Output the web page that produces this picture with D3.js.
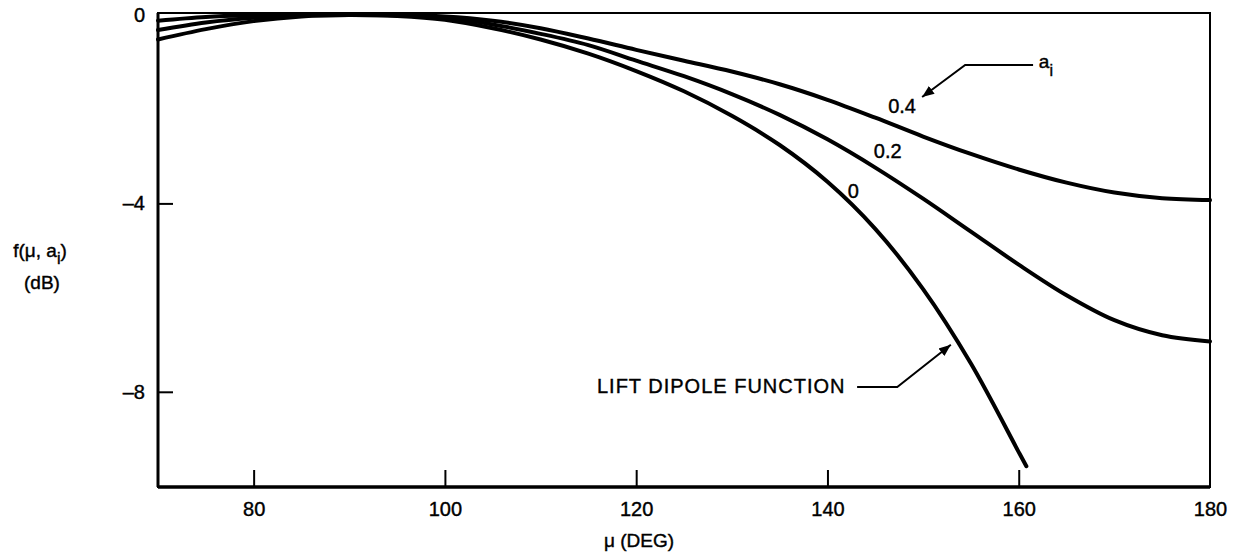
<!DOCTYPE html>
<html>
<head>
<meta charset="utf-8">
<script src="https://cdn.jsdelivr.net/npm/d3@7"></script>
<style>
  html, body { margin: 0; padding: 0; background: #fff; }
  svg text { font-family: "Liberation Sans", Arial, Helvetica, sans-serif; fill: #000; stroke: #000; stroke-width: 0.4px; }
</style>
</head>
<body>
<div class="chart"></div>
<script>
(function () {
  'use strict';

  // values (mu in degrees, f in dB)
  var mu = [70, 75, 80, 85, 90, 95, 100, 105, 110, 115, 120, 125, 130, 135, 140, 145, 150, 155, 160, 165, 170, 175, 180];
  var muLift = [70, 75, 80, 85, 90, 95, 100, 105, 110, 115, 120, 125, 130, 135, 140, 145, 150, 155, 160, 160.8];
  var fA0 = [-0.52, -0.3, -0.13, -0.03, 0, -0.02, -0.1, -0.28, -0.52, -0.82, -1.19, -1.62, -2.14, -2.76, -3.54, -4.54, -5.82, -7.4, -9.28, -9.58];
  var fA02 = [-0.32, -0.16, -0.06, -0.01, 0, -0.01, -0.06, -0.2, -0.4, -0.64, -0.97, -1.3, -1.68, -2.12, -2.64, -3.24, -3.9, -4.6, -5.3, -5.95, -6.48, -6.8, -6.93];
  var fA04 = [-0.12, -0.04, -0.01, 0, 0, 0, -0.03, -0.12, -0.28, -0.5, -0.74, -0.97, -1.2, -1.47, -1.8, -2.18, -2.58, -2.95, -3.28, -3.56, -3.77, -3.89, -3.93];
  var xTicks = [80, 100, 120, 140, 160, 180];
  var yTicks = [0, -4, -8];

  var width = 1237;
  var height = 554;

  var x = d3.scaleLinear().domain([70, 180]).range([158, 1210]);
  var y = d3.scaleLinear().domain([0, -10]).range([15, 486]);

  var svg = d3.select('.chart')
      .append('svg')
      .attr('width', width)
      .attr('height', height);

  svg.append('defs')
     .append('marker')
     .attr('id', 'arrow')
     .attr('viewBox', '0 0 10 10')
     .attr('refX', 10)
     .attr('refY', 5)
     .attr('markerWidth', 6)
     .attr('markerHeight', 6)
     .attr('markerUnits', 'strokeWidth')
     .attr('orient', 'auto')
     .append('path')
     .attr('d', 'M0,1 L10,5 L0,9 Z')
     .attr('fill', '#000');

  // frame
  svg.append('rect')
     .attr('x', x(70))
     .attr('y', y(0) - 2)
     .attr('width', x(180) - x(70))
     .attr('height', y(-10) - y(0) + 3)
     .attr('fill', 'none')
     .attr('stroke', '#000')
     .attr('stroke-width', 2);

  svg.append('line')
     .attr('x1', x(70)).attr('x2', x(180))
     .attr('y1', y(-10) + 1).attr('y2', y(-10) + 1)
     .attr('stroke', '#000').attr('stroke-width', 3.5);

  svg.append('line')
     .attr('x1', x(70)).attr('x2', x(70))
     .attr('y1', y(0) - 2).attr('y2', y(-10) + 1)
     .attr('stroke', '#000').attr('stroke-width', 3);

  // axes with inward ticks
  var xAxis = svg.append('g')
     .attr('class', 'x axis')
     .attr('transform', 'translate(0,' + (y(-10) + 1) + ')')
     .call(d3.axisBottom(x).tickValues(xTicks).tickSize(-17).tickPadding(15).tickFormat(d3.format('d')));

  xAxis.select('.domain').remove();
  xAxis.selectAll('.tick line').attr('stroke-width', 2)
     .filter(function(d) { return d === 180; }).remove();
  xAxis.selectAll('.tick text').attr('font-size', 20).attr('fill', '#000');

  var yAxis = svg.append('g')
     .attr('class', 'y axis')
     .attr('transform', 'translate(' + x(70) + ',0)')
     .call(d3.axisLeft(y).tickValues(yTicks).tickSize(-15).tickPadding(13)
       .tickFormat(function(d) { return d === 0 ? '0' : '\u2013' + Math.abs(d); }));

  yAxis.select('.domain').remove();
  yAxis.selectAll('.tick line').attr('stroke-width', 2)
     .filter(function(d) { return d === 0; }).remove();
  yAxis.selectAll('.tick text').attr('font-size', 20).attr('fill', '#000');

  // curves
  var line = d3.line()
     .x(function(d) { return x(d[0]); })
     .y(function(d) { return y(d[1]); })
     .curve(d3.curveCatmullRom.alpha(0.5));

  var series = [
    d3.zip(muLift, fA0),
    d3.zip(mu, fA02),
    d3.zip(mu, fA04)
  ];

  svg.selectAll('.curve')
     .data(series)
     .enter()
     .append('path')
     .attr('class', 'curve')
     .attr('d', line)
     .attr('fill', 'none')
     .attr('stroke', '#000')
     .attr('stroke-width', 4)
     .attr('stroke-linecap', 'round');

  // curve labels
  var labels = [
    { t: '0', mu: 142.7, v: -3.89 },
    { t: '0.2', mu: 146.3, v: -3.04 },
    { t: '0.4', mu: 147.8, v: -2.08 }
  ];

  svg.selectAll('.lbl')
     .data(labels)
     .enter()
     .append('text')
     .attr('class', 'lbl')
     .attr('x', function(d) { return x(d.mu); })
     .attr('y', function(d) { return y(d.v); })
     .attr('text-anchor', 'middle')
     .attr('font-size', 20)
     .text(function(d) { return d.t; });

  // a_i leader
  svg.append('path')
     .attr('d', 'M' + x(161.5) + ',' + y(-1.06) + ' L' + x(154.4) + ',' + y(-1.06) + ' L' + x(149.9) + ',' + y(-1.74))
     .attr('fill', 'none')
     .attr('stroke', '#000')
     .attr('stroke-width', 2)
     .attr('marker-end', 'url(#arrow)');

  var ai = svg.append('text')
     .attr('x', x(162.1))
     .attr('y', y(-1.12))
     .attr('font-size', 19);
  ai.append('tspan').text('a');
  ai.append('tspan').attr('dy', 8).attr('font-size', 16).text('i');

  // lift dipole leader
  svg.append('text')
     .attr('x', x(115.9))
     .attr('y', y(-8.03))
     .attr('font-size', 20)
     .attr('letter-spacing', 1)
     .text('LIFT DIPOLE FUNCTION');

  svg.append('path')
     .attr('d', 'M' + x(143.1) + ',' + y(-7.9) + ' L' + x(147.3) + ',' + y(-7.9) + ' L' + x(152.9) + ',' + y(-7.0))
     .attr('fill', 'none')
     .attr('stroke', '#000')
     .attr('stroke-width', 2)
     .attr('marker-end', 'url(#arrow)');

  // axis titles
  var yt = svg.append('text')
     .attr('x', 40)
     .attr('y', 257)
     .attr('text-anchor', 'middle')
     .attr('font-size', 19);
  yt.append('tspan').text('f(\u03bc, a');
  yt.append('tspan').attr('dy', 7).attr('font-size', 16).text('i');
  yt.append('tspan').attr('dy', -7).text(')');

  svg.append('text')
     .attr('x', 42)
     .attr('y', 289)
     .attr('text-anchor', 'middle')
     .attr('font-size', 19)
     .text('(dB)');

  svg.append('text')
     .attr('x', x(120.3))
     .attr('y', 547)
     .attr('text-anchor', 'middle')
     .attr('font-size', 19)
     .text('\u03bc (DEG)');
}());
</script>
</body>
</html>
